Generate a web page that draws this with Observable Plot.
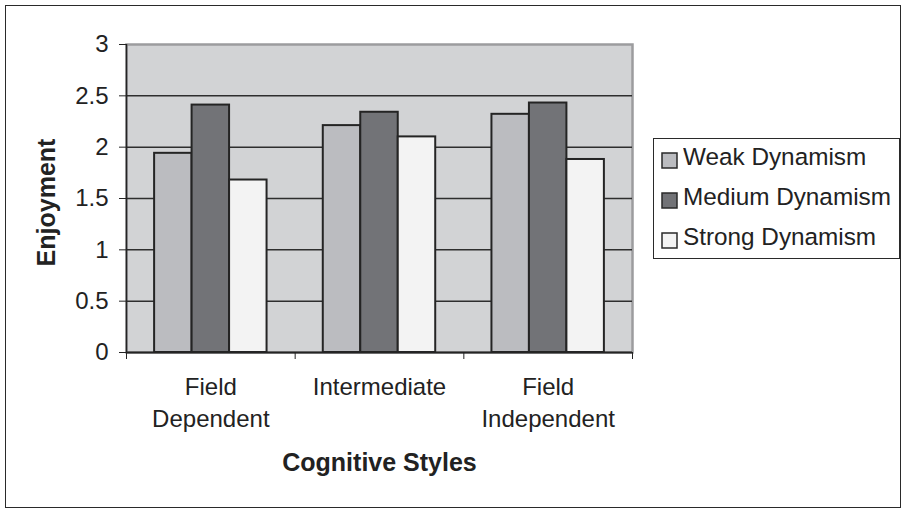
<!DOCTYPE html>
<html>
<head>
<meta charset="utf-8">
<script src="https://cdn.jsdelivr.net/npm/d3@7"></script>
<script src="https://cdn.jsdelivr.net/npm/@observablehq/plot@0.6"></script>
<style>
  html, body { margin: 0; padding: 0; background: #fff; }
  #wrap { position: relative; width: 902px; height: 510px; overflow: hidden; font-family: "Liberation Sans", Arial, sans-serif; }
  #border { position: absolute; left: 5px; top: 5px; width: 896px; height: 503px; border: 1.5px solid #2a2a2a; box-sizing: border-box; pointer-events: none; }
  #legendBox { position: absolute; left: 653px; top: 138px; width: 247px; height: 121px; border: 1.5px solid #2a2a2a; box-sizing: border-box; background: #fff; }
  #legendBox > div { position: absolute; left: 8px; top: -2px; margin: 0 !important; }
  .lg-swatches, .lg-swatches-columns { font: 24.3px "Liberation Sans", Arial, sans-serif !important; color: #222 !important; margin: 0 !important; min-height: 0 !important; columns: auto !important; display: block !important; }
  .lg-swatch { display: flex !important; align-items: center !important; height: 40px !important; line-height: 40px !important; padding: 0 !important; margin: 0 !important; white-space: nowrap; }
  .lg-swatch svg { margin-right: 6px !important; position: relative; top: 3px; overflow: visible; }
  .lg-swatch svg rect { stroke: #2a2a2a; stroke-width: 1.5px; }
</style>
</head>
<body>
<div id="wrap"></div>
<script>
// ---- data ----
const categories = ["Field Dependent", "Intermediate", "Field Independent"];
const categoryLabels = ["Field\nDependent", "Intermediate", "Field\nIndependent"];
const series = ["Weak Dynamism", "Medium Dynamism", "Strong Dynamism"];
const weak = [1.94, 2.21, 2.32];
const medium = [2.41, 2.34, 2.43];
const strong = [1.68, 2.10, 1.88];
const yTicks = [0, 0.5, 1, 1.5, 2, 2.5, 3];
const gridValues = [0.5, 1, 1.5, 2, 2.5];
const colors = ["#bbbcc0", "#727377", "#f3f3f3"];

// build table
const seriesValues = [weak, medium, strong];
const rows = [];
categories.forEach((c, i) => {
  series.forEach((s, j) => rows.push({category: c, ci: i, series: s, value: seriesValues[j][i]}));
});
// position of each series inside a category slot (category i spans [i, i+1])
const sub = d3.scaleBand(series, [0, 1]).paddingInner(0).paddingOuter(0.75);
const catRows = categories.map((c, i) => ({category: c, mid: i + 0.5, label: categoryLabels[i]}));
const boundaries = d3.range(categories.length + 1);

const chart = Plot.plot({
  width: 902,
  height: 510,
  marginLeft: 126,
  marginRight: 270,
  marginTop: 44,
  marginBottom: 158,
  style: {fontFamily: "'Liberation Sans', Arial, sans-serif", fontSize: "24px", background: "transparent", color: "#222"},
  x: {domain: [0, categories.length]},
  y: {domain: [0, 3]},
  color: {domain: series, range: colors},
  marks: [
    Plot.frame({fill: "#d2d3d5", stroke: "#9c9c9e", strokeWidth: 2.5}),
    Plot.ruleY(gridValues, {stroke: "#2e2e2e", strokeWidth: 1.5}),
    Plot.rectY(rows, {
      x1: d => d.ci + sub(d.series),
      x2: d => d.ci + sub(d.series) + sub.bandwidth(),
      y1: 0,
      y2: "value",
      fill: "series",
      stroke: "#242424",
      strokeWidth: 2
    }),
    Plot.ruleX([0], {stroke: "#242424", strokeWidth: 1.5}),
    Plot.ruleY([0], {stroke: "#242424", strokeWidth: 2}),
    Plot.axisY({ticks: yTicks, tickFormat: d => String(d), tickSize: 7, tickPadding: 11, label: null, stroke: "#242424", fill: "#222", fontSize: 24}),
    Plot.axisX({ticks: boundaries, tickSize: 7, tickFormat: () => "", label: null, stroke: "#242424"}),
    Plot.text(catRows, {x: "mid", y: () => 0, text: "label", lineAnchor: "top", dy: 20, lineHeight: 1.333, fontSize: 24, fill: "#222"}),
    Plot.text(["Cognitive Styles"], {frameAnchor: "bottom", lineAnchor: "top", dy: 101, fontSize: 25, fontWeight: "bold", fill: "#222"}),
    Plot.text(["Enjoyment"], {frameAnchor: "left", textAnchor: "middle", rotate: -90, lineAnchor: "top", dx: -89, dy: 4, fontSize: 25, fontWeight: "bold", fill: "#222"})
  ]
});

const wrap = document.getElementById("wrap");
wrap.appendChild(chart);
const border = document.createElement("div");
border.id = "border";
wrap.appendChild(border);

const legendBox = document.createElement("div");
legendBox.id = "legendBox";
legendBox.appendChild(Plot.legend({color: {domain: series, range: colors}, legend: "swatches", columns: 1, swatchSize: 15, className: "lg"}));
wrap.appendChild(legendBox);
</script>
</body>
</html>
